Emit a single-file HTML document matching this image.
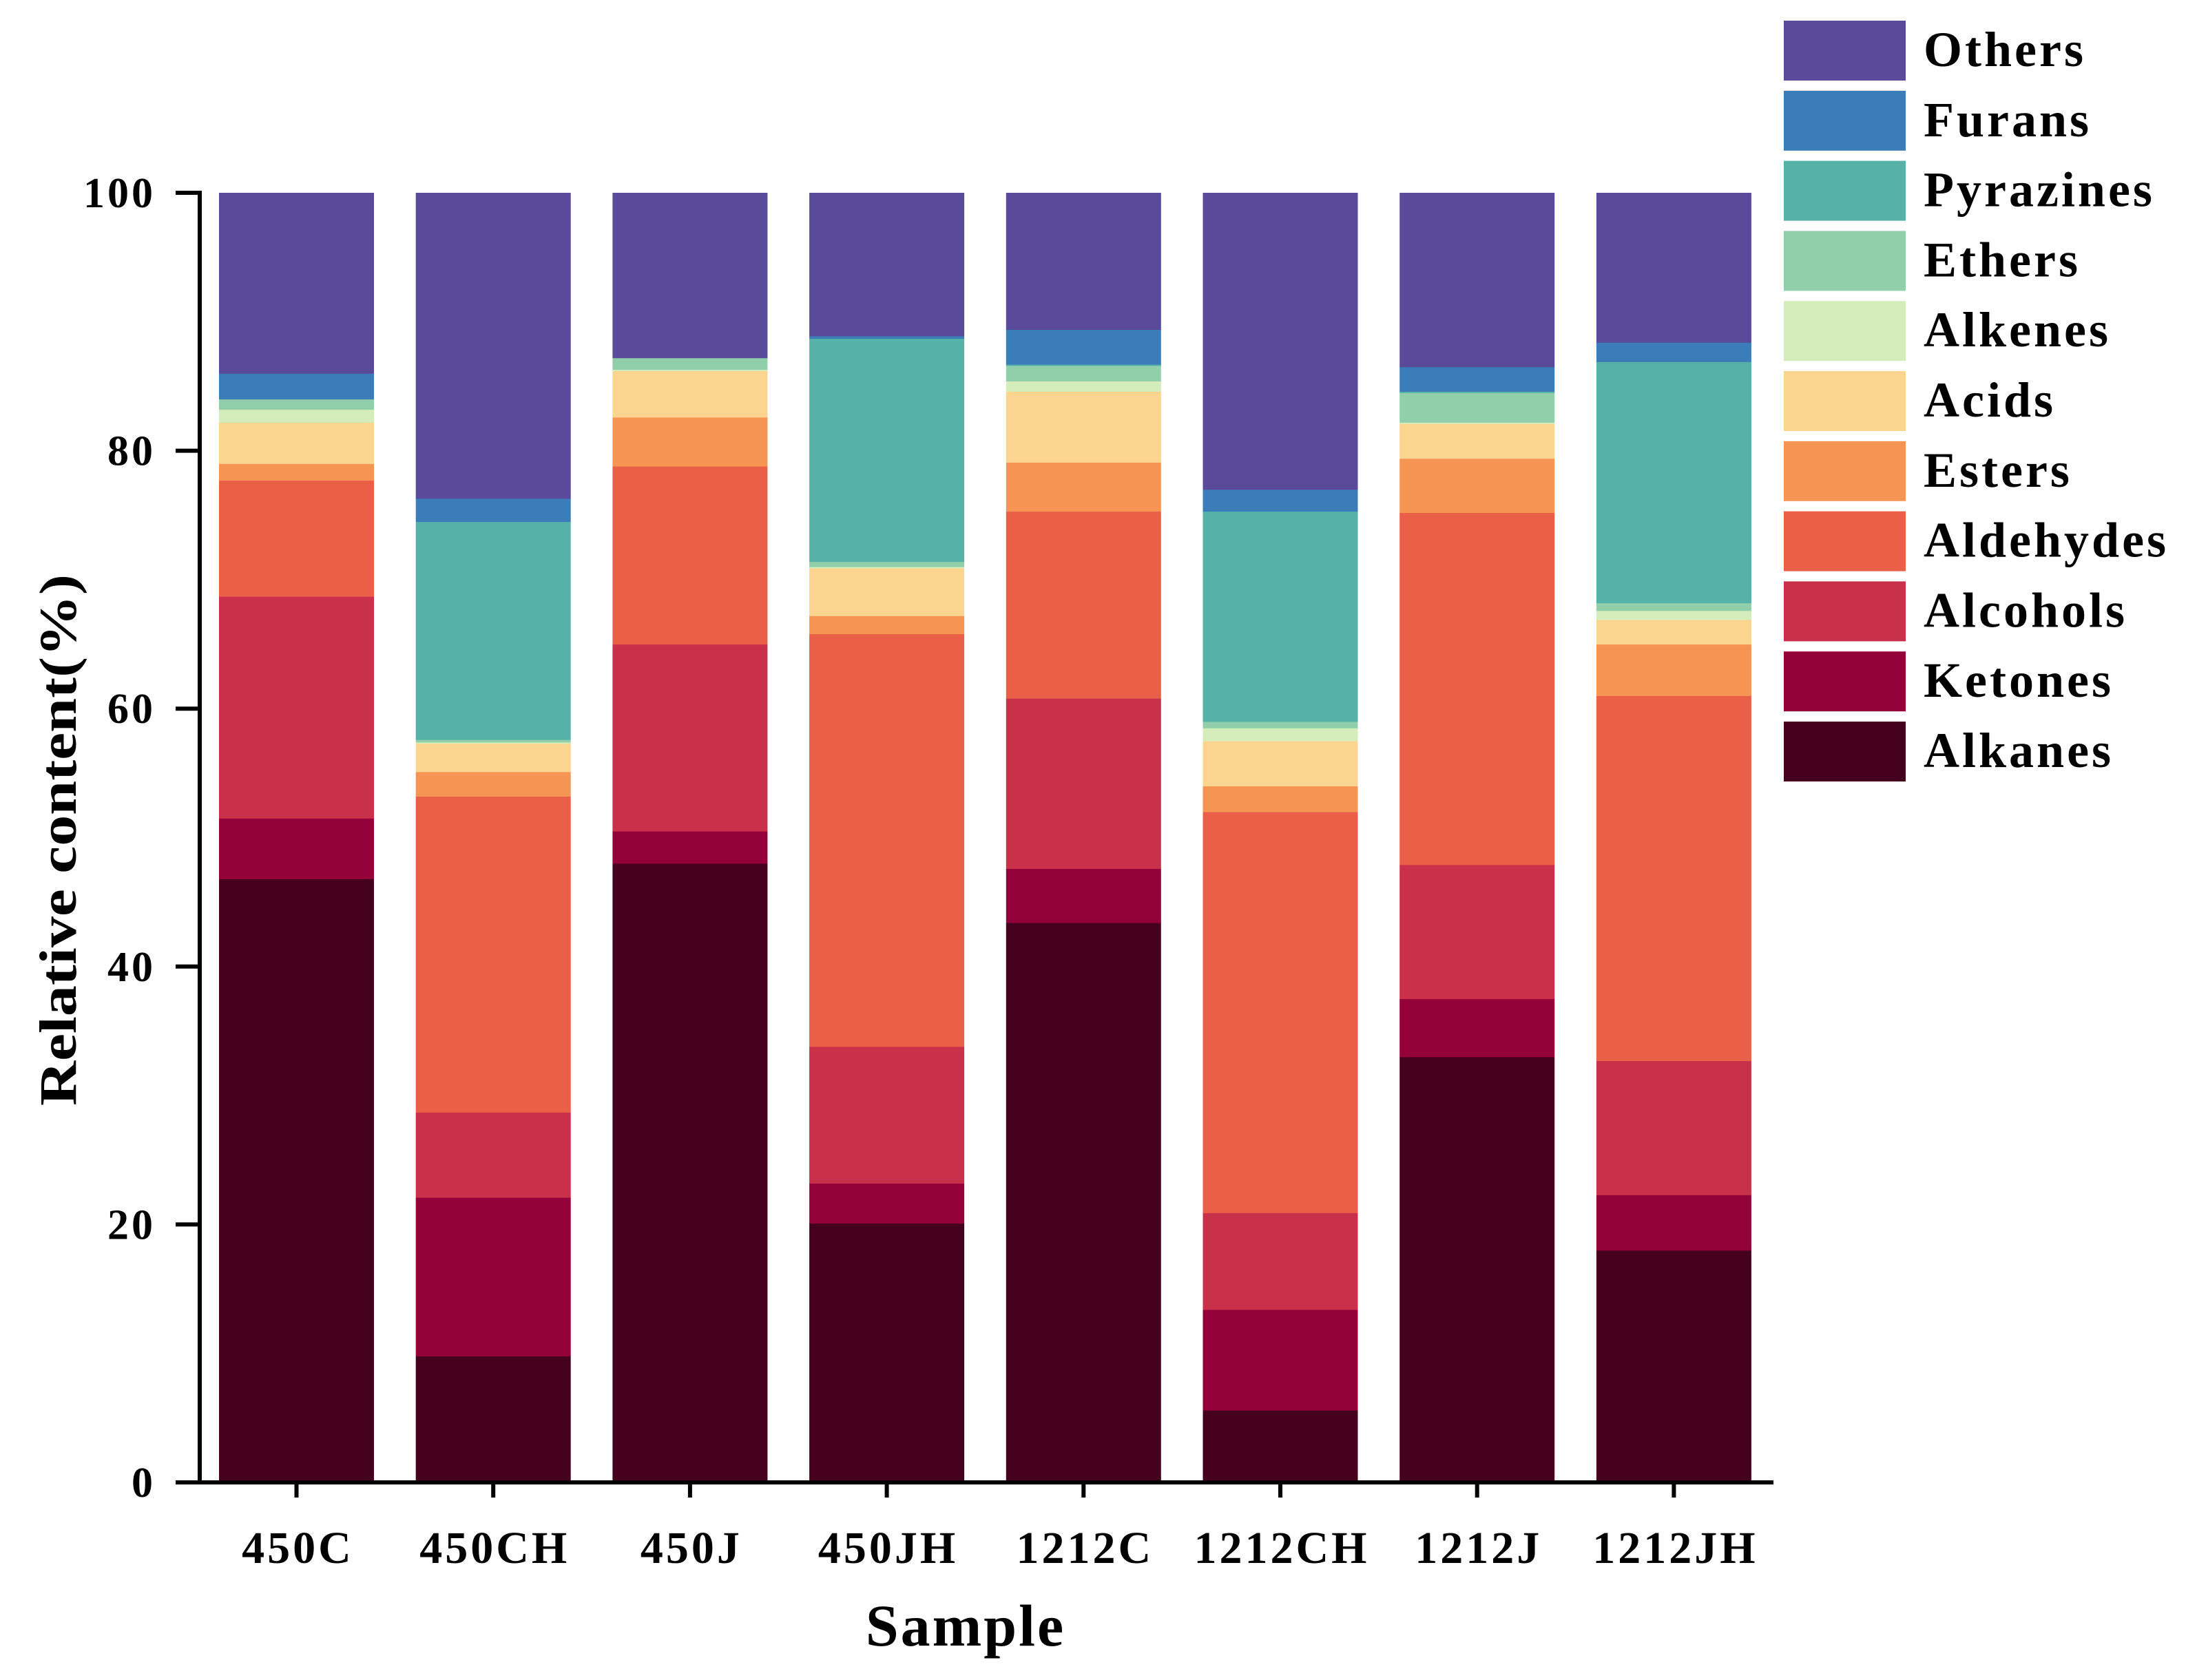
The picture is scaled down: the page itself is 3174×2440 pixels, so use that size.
<!DOCTYPE html>
<html><head><meta charset="utf-8"><style>
html,body{margin:0;padding:0;background:#fff}
svg{display:block}
text{font-family:"Liberation Serif",serif;font-weight:bold;fill:#000}
</style></head><body>
<svg id="chart" width="3174" height="2440" viewBox="0 0 3174 2440" xmlns="http://www.w3.org/2000/svg"></svg>
<script>
const categories = ["450C","450CH","450J","450JH","1212C","1212CH","1212J","1212JH"];
const seriesNames = ["Alkanes","Ketones","Alcohols","Aldehydes","Esters","Acids","Alkenes","Ethers","Pyrazines","Furans","Others"];
const alkanes   = [46.8, 9.8, 48.0, 20.1, 43.4, 5.6, 33.0, 18.0];
const ketones   = [4.7, 12.3, 2.5, 3.1, 4.2, 7.8, 4.5, 4.3];
const alcohols  = [17.2, 6.6, 14.5, 10.6, 13.2, 7.5, 10.4, 10.4];
const aldehydes = [9.0, 24.5, 13.8, 32.0, 14.5, 31.1, 27.3, 28.3];
const esters    = [1.3, 1.9, 3.8, 1.4, 3.8, 2.0, 4.2, 4.0];
const acids     = [3.2, 2.2, 3.6, 3.7, 5.5, 3.5, 2.7, 1.9];
const alkenes   = [1.0, 0.1, 0.1, 0.1, 0.8, 1.0, 0.1, 0.7];
const ethers    = [0.8, 0.2, 0.9, 0.4, 1.2, 0.5, 2.3, 0.6];
const pyrazines = [0, 16.9, 0, 17.3, 0.1, 16.3, 0.1, 18.7];
const furans    = [2.0, 1.8, 0, 0.2, 2.7, 1.7, 1.9, 1.5];
const others    = [14.0, 23.7, 12.8, 11.1, 10.6, 23.0, 13.5, 11.6];
const yTicks = [0, 20, 40, 60, 80, 100];

const seriesValues = [alkanes, ketones, alcohols, aldehydes, esters, acids, alkenes, ethers, pyrazines, furans, others];
const colors = ["#45001e","#93003a","#c9314a","#e95f48","#f69454","#fbd48f","#d5ecbb","#91cfab","#56b1a8","#3a7db8","#594a9a"];

const svg = document.getElementById('chart');
const NS = "http://www.w3.org/2000/svg";
function mk(tag, attrs){const e=document.createElementNS(NS,tag);for(const k in attrs)e.setAttribute(k,attrs[k]);svg.appendChild(e);return e;}

const y0 = 2153, y100 = 280;
const yScale = v => y0 - (v/100)*(y0-y100);
const barLeft0 = 318, step = 285.7, barW = 225;
const xLeft = i => barLeft0 + i*step;
const xCenter = i => xLeft(i) + barW/2;

categories.forEach((c,i)=>{
  let cum = 0;
  seriesValues.forEach((vals,s)=>{
    const v = vals[i];
    if(v<=0){return;}
    const top = yScale(cum+v), bot = yScale(cum);
    const r = mk('rect',{x:xLeft(i),y:top,width:barW,height:bot-top+0.5,fill:colors[s]});
    
    
    cum += v;
  });
});

const yAxis = mk('line',{x1:290,y1:y100-3,x2:290,y2:y0+3,stroke:'#000','stroke-width':6});


const xAxis = mk('line',{x1:255,y1:y0,x2:2575,y2:y0,stroke:'#000','stroke-width':6});



yTicks.forEach(t=>{
  const y = yScale(t);
  const l = mk('line',{x1:255,y1:y,x2:290,y2:y,stroke:'#000','stroke-width':6});
  
  
  const tx = mk('text',{x:226,y:y+21,'text-anchor':'end','font-size':62,'letter-spacing':4});
  tx.textContent = t;
  
  
});

categories.forEach((c,i)=>{
  const x = xCenter(i);
  const l = mk('line',{x1:x,y1:y0,x2:x,y2:y0+22,stroke:'#000','stroke-width':6});
  
  
  const tx = mk('text',{x:x+2,y:2270,'text-anchor':'middle','font-size':66,'letter-spacing':4});
  tx.textContent = c;
  
  
});

const xt = mk('text',{x:1402,y:2390,'text-anchor':'middle','font-size':86,'letter-spacing':3});
xt.textContent = 'Sample';



const yt = mk('text',{x:0,y:0,'text-anchor':'middle','font-size':76,textLength:772,lengthAdjust:'spacingAndGlyphs',transform:'translate(110,1220) rotate(-90)'});
yt.textContent = 'Relative content(%)';



for(let k=0;k<seriesNames.length;k++){
  const s = seriesNames.length-1-k;
  const y = 30 + k*101.8;
  const r = mk('rect',{x:2590,y:y,width:177,height:87,fill:colors[s]});
  
  
  const t = mk('text',{x:2793,y:y+66,'font-size':72,'letter-spacing':4});
  t.textContent = seriesNames[s];
  
  
}
</script>
</body></html>
